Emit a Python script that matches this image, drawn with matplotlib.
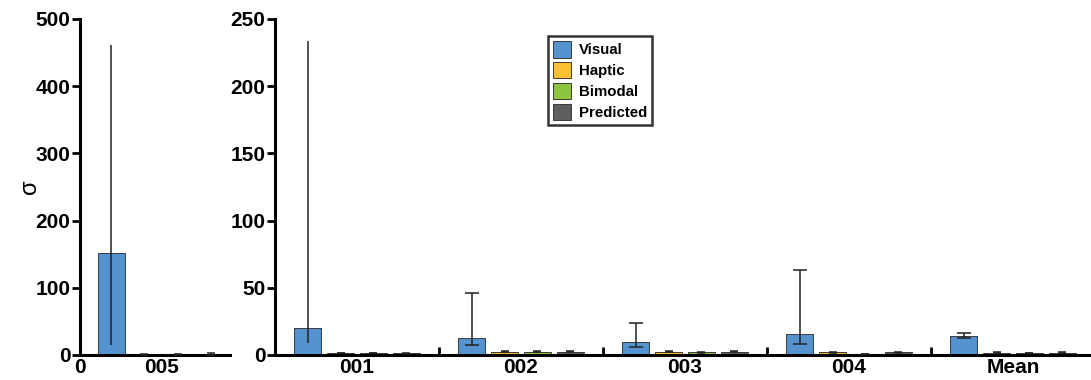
import matplotlib
matplotlib.use("Agg")
import matplotlib.pyplot as plt
import numpy as np

plt.rcParams['font.family'] = ['Liberation Sans', 'DejaVu Sans']
plt.rcParams['font.weight'] = 'bold'

conditions = ['Visual', 'Haptic', 'Bimodal', 'Predicted']
colors = ['#5592d0', '#fbc02f', '#8cc63f', '#5e5e60']

# Left panel (subject 005)
left_groups = ['005']
left_vals = [[152.0], [1.2], [0.8], [1.5]]
left_lo = [[15.0], [0.5], [0.4], [0.6]]
left_hi = [[461.0], [2.0], [1.2], [2.5]]

# Right panel
right_groups = ['001', '002', '003', '004', 'Mean']
right_vals = [
    [20.0, 13.0, 9.7, 15.4, 14.4],   # Visual
    [1.5, 2.5, 2.5, 2.0, 1.6],       # Haptic
    [1.5, 2.5, 2.0, 0.8, 1.5],       # Bimodal
    [1.2, 2.5, 2.5, 2.0, 1.7],       # Predicted
]
right_lo = [
    [9.0, 7.7, 6.2, 8.0, 12.4],
    [1.2, 2.0, 2.0, 1.6, 1.3],
    [1.2, 2.0, 1.6, 0.6, 1.2],
    [1.0, 2.0, 2.0, 1.6, 1.4],
]
right_hi = [
    [234.0, 46.0, 24.0, 63.5, 16.6],
    [1.8, 3.2, 3.0, 2.6, 1.9],
    [1.8, 3.2, 2.5, 1.0, 1.8],
    [1.5, 3.2, 3.0, 2.6, 2.0],
]

TICK_FS = 15

fig = plt.figure(figsize=(10.91, 3.80), dpi=100)
axL = fig.add_axes([80/1091, 25/380, 150/1091, 336/380])
axR = fig.add_axes([275/1091, 25/380, 820/1091, 336/380])

def style(ax):
    for s in ['top', 'right']:
        ax.spines[s].set_visible(False)
    for s in ['left', 'bottom']:
        ax.spines[s].set_linewidth(2.2)
    ax.tick_params(axis='y', direction='out', length=6, width=2, labelsize=TICK_FS, pad=1)
    for lab in ax.get_yticklabels():
        lab.set_fontweight('bold')

def draw(ax, groups_x, vals, lo, hi, step, width, nocap):
    for i in range(4):
        xs = np.asarray(groups_x) + (i - 1.5) * step
        v = np.asarray(vals[i])
        ax.bar(xs, v, width=width, color=colors[i], edgecolor='#3a3a3a',
               linewidth=0.7, label=conditions[i], zorder=2)
        for j, x in enumerate(xs):
            cap = 0 if (i == 0 and j in nocap) else (5 if i == 0 else 3)
            ax.errorbar([x], [v[j]], yerr=[[v[j] - lo[i][j]], [hi[i][j] - v[j]]],
                        fmt='none', ecolor='#222222', elinewidth=1.1,
                        capsize=cap, capthick=1.1, zorder=3)

# Left
draw(axL, [1.0], left_vals, left_lo, left_hi, 0.41, 0.335, nocap=[0])
axL.set_xlim(0, 1.85)
axL.set_ylim(0, 500)
axL.set_yticks([0, 100, 200, 300, 400, 500])
axL.set_xticks([0, 1])
axL.set_xticklabels(['0', '005'], fontsize=TICK_FS, fontweight='bold')
axL.tick_params(axis='x', length=0, pad=2)
style(axL)
axL.set_ylabel('σ', fontsize=17, labelpad=-4)

# Right
gx = np.arange(1, 6)
draw(axR, gx, right_vals, right_lo, right_hi, 0.2, 0.165, nocap=[0])
axR.set_xlim(0.5, 5.5)
axR.set_ylim(0, 250)
axR.set_yticks([0, 50, 100, 150, 200, 250])
axR.set_xticks([1.5, 2.5, 3.5, 4.5])
axR.set_xticklabels([])
axR.tick_params(axis='x', which='major', direction='in', length=6, width=2)
axR.set_xticks(gx, minor=True)
axR.set_xticklabels(right_groups, minor=True, fontsize=TICK_FS, fontweight='bold')
axR.tick_params(axis='x', which='minor', length=0, pad=2)
style(axR)

leg = axR.legend(loc='upper left', bbox_to_anchor=(273/820, 1 - 17/336),
                 fontsize=10.8, frameon=True, fancybox=False, handlelength=1.2,
                 handleheight=1.3, handletextpad=0.5, labelspacing=0.3,
                 borderpad=0.35, borderaxespad=0)
leg.get_frame().set_edgecolor('black')
leg.get_frame().set_linewidth(1.8)
for t in leg.get_texts():
    t.set_fontweight('bold')

fig.savefig('out.png', dpi=100)
